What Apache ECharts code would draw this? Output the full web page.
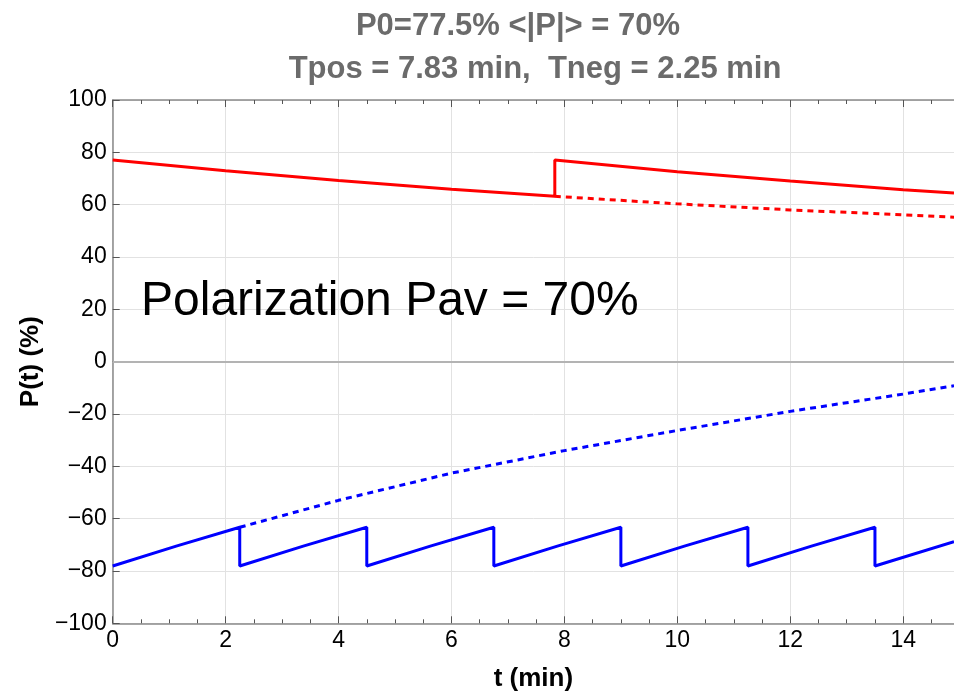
<!DOCTYPE html>
<html>
<head>
<meta charset="utf-8">
<title></title>
<script type="text/javascript" src="https://cdn.jsdelivr.net/npm/echarts@6/dist/echarts.min.js"></script>
<style>
html, body { margin: 0; padding: 0; background: #fff; }
</style>
</head>
<body>

<div id="main" style="width: 954px;height:694px;"></div>

<script type="text/javascript">

// values: t in minutes, P in %
let RED_T = [0, 2, 4, 6, 7.83, 7.83, 10, 12, 14, 14.9];
let RED_P = [77.1, 73.0, 69.2, 65.9, 63.2, 77.1, 72.6, 69.0, 65.7, 64.5];

let RED_DASH_T = [7.83, 10, 12, 14, 14.9];
let RED_DASH_P = [63.2, 60.3, 58.0, 56.1, 55.2];

let BLUE_T = [0, 1.125, 2.25, 2.25, 3.375, 4.5, 4.5, 5.625, 6.75, 6.75, 7.875, 9,
	9, 10.125, 11.25, 11.25, 12.375, 13.5, 13.5, 14.9];
let BLUE_P = [-78.1, -70.5, -63.3, -78.1, -70.5, -63.3, -78.1, -70.5, -63.3, -78.1, -70.5, -63.3,
	-78.1, -70.5, -63.3, -78.1, -70.5, -63.3, -78.1, -68.8];

let BLUE_DASH_T = [2.25, 4, 6, 8, 10, 12, 14, 14.9];
let BLUE_DASH_P = [-63.3, -53.0, -42.6, -34.0, -26.3, -19.0, -12.4, -9.2];

let TITLE_1 = 'P0=77.5% <|P|> = 70%';
let TITLE_2 = 'Tpos = 7.83 min,  Tneg = 2.25 min';
let NOTE = 'Polarization Pav = 70%';

let FONT = '"Liberation Sans", Arial, Helvetica, sans-serif';

function pairs(ts, ps){
	return ts.map((t, i) => [t, ps[i]]);
}

function lineSeries(ts, ps, color, dashed){
	return {
		type: 'line',
		data: pairs(ts, ps),
		symbol: 'none',
		showSymbol: false,
		smooth: false,
		animation: false,
		lineStyle: { color: color, width: 3, type: dashed ? [6, 5] : 'solid' },
		z: 3
	};
}

let myChart = echarts.init(document.getElementById('main'), null, { renderer: 'canvas' });

let axisGray = '#8a8a8a';
let gridGray = '#e2e2e2';

let blue = lineSeries(BLUE_T, BLUE_P, '#0000ff', false);
blue.markLine = {
	silent: true,
	symbol: 'none',
	animation: false,
	label: { show: false },
	lineStyle: { color: '#b3b3b3', width: 2, type: 'solid' },
	data: [{ yAxis: 0 }]
};

let option = {
	backgroundColor: '#fff',
	animation: false,
	textStyle: { fontFamily: FONT },
	grid: { left: 112.7, right: 0, top: 100, bottom: 70.7, containLabel: false, outerBoundsMode: 'none' },
	xAxis: [{
		type: 'value',
		position: 'bottom',
		min: 0, max: 14.9, interval: 2,
		name: 't (min)',
		nameLocation: 'middle',
		nameGap: 43,
		nameTextStyle: { fontFamily: FONT, fontWeight: 'bold', fontSize: 26, color: '#000' },
		axisLine: { show: true, onZero: false, lineStyle: { color: axisGray, width: 1.5 } },
		axisTick: { show: true, inside: true, length: 7, lineStyle: { color: '#555', width: 1 } },
		minorTick: { show: true, splitNumber: 4, length: 4, lineStyle: { color: '#555', width: 1 } },
		splitLine: { show: true, lineStyle: { color: gridGray, width: 1 } },
		axisLabel: { fontSize: 23, color: '#000', margin: 6, fontFamily: FONT, showMaxLabel: false }
	}, {
		type: 'value',
		position: 'top',
		min: 0, max: 14.9, interval: 2,
		axisLine: { show: true, onZero: false, lineStyle: { color: axisGray, width: 1.5 } },
		axisTick: { show: true, inside: true, length: 7, lineStyle: { color: '#555', width: 1 } },
		minorTick: { show: true, splitNumber: 4, length: 4, lineStyle: { color: '#555', width: 1 } },
		splitLine: { show: false },
		axisLabel: { show: false }
	}],
	yAxis: {
		type: 'value',
		min: -100, max: 100, interval: 20,
		name: 'P(t) (%)',
		nameLocation: 'middle',
		nameGap: 69,
		nameTextStyle: { fontFamily: FONT, fontWeight: 'bold', fontSize: 26, color: '#000' },
		axisLine: { show: true, onZero: false, lineStyle: { color: axisGray, width: 1.5 } },
		axisTick: { show: true, inside: true, length: 7, lineStyle: { color: '#555', width: 1 } },
		splitLine: { show: true, lineStyle: { color: gridGray, width: 1 } },
		axisLabel: {
			fontSize: 23, color: '#000', margin: 6, fontFamily: FONT,
			formatter: (v) => String(v).replace('-', '\u2212')
		}
	},
	graphic: [
		{ type: 'text', x: 518, y: 26, style: { text: TITLE_1, font: 'bold 31px ' + FONT, fill: '#6b6b6b', align: 'center', verticalAlign: 'middle' } },
		{ type: 'text', x: 535, y: 69, style: { text: TITLE_2, font: 'bold 31px ' + FONT, fill: '#6b6b6b', align: 'center', verticalAlign: 'middle' } },
		{ type: 'text', x: 141, y: 302, z: 10, style: { text: NOTE, font: '48px ' + FONT, fill: '#000', align: 'left', verticalAlign: 'middle' } }
	],
	series: [
		lineSeries(RED_T, RED_P, '#ff0000', false),
		lineSeries(RED_DASH_T, RED_DASH_P, '#ff0000', true),
		blue,
		lineSeries(BLUE_DASH_T, BLUE_DASH_P, '#0000ff', true)
	]
};

myChart.setOption(option);

</script>

</body>
</html>
